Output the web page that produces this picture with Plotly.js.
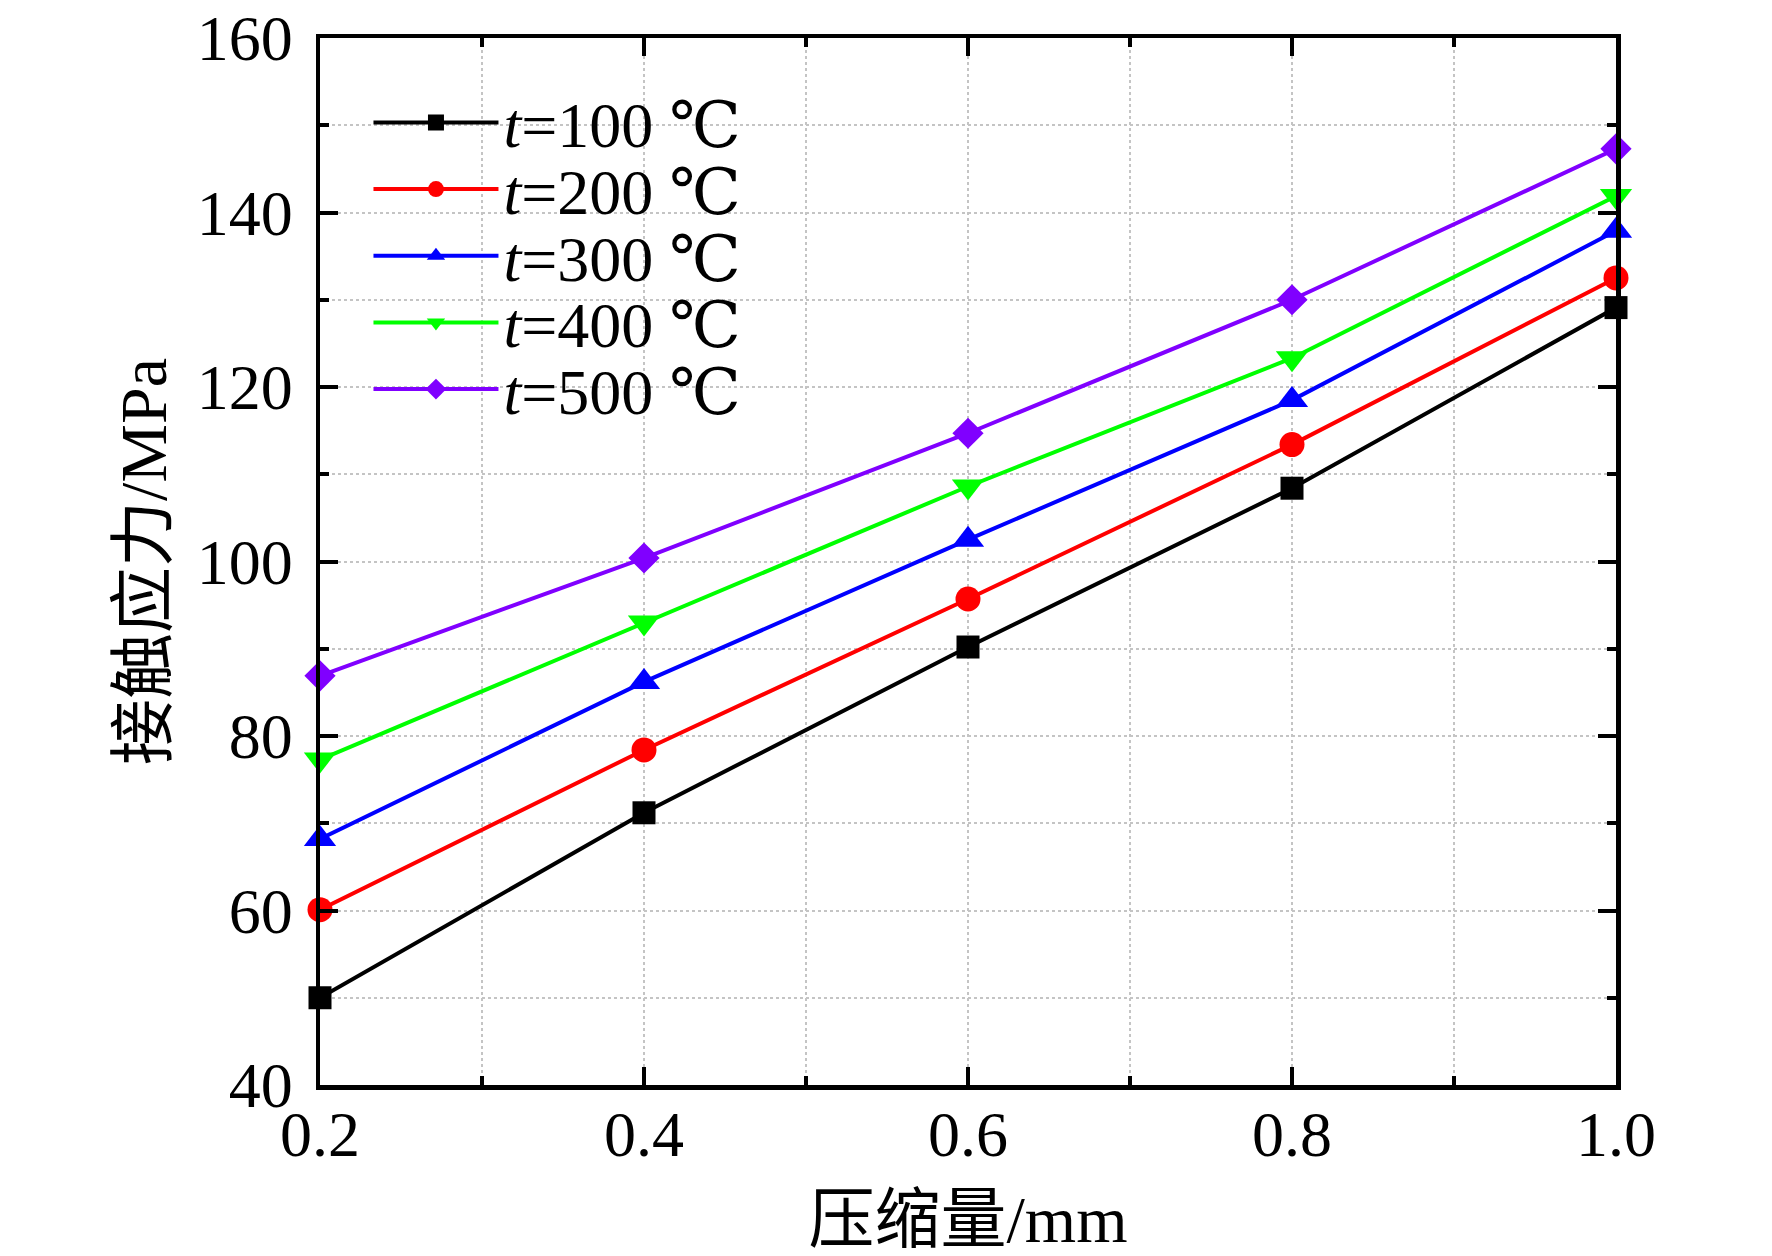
<!DOCTYPE html>
<html>
<head>
<meta charset="utf-8">
<script src="https://cdn.plot.ly/plotly-3.0.1.min.js"></script>
<style>
  html, body { margin: 0; padding: 0; background: #fff; }
  #chart { width: 1772px; height: 1256px; }
</style>
</head>
<body>
<div id="chart"></div>
<script>
// ---- data ----
const compression = [0.2, 0.4, 0.6, 0.8, 1.0];           // 压缩量 / mm
const stress_t100 = [50.0, 71.2, 90.2, 108.4, 129.1];     // t=100 ℃
const stress_t200 = [60.1, 78.4, 95.7, 113.4, 132.5];     // t=200 ℃
const stress_t300 = [68.2, 86.2, 102.5, 118.5, 137.9];    // t=300 ℃
const stress_t400 = [77.3, 93.0, 108.6, 123.3, 141.9];    // t=400 ℃
const stress_t500 = [86.9, 100.4, 114.7, 130.0, 147.3];   // t=500 ℃
const seriesNames = ['<i>t</i>=100 ℃', '<i>t</i>=200 ℃', '<i>t</i>=300 ℃', '<i>t</i>=400 ℃', '<i>t</i>=500 ℃'];
const xTickVals = [0.2, 0.4, 0.6, 0.8, 1.0];
const xTickText = ['0.2', '0.4', '0.6', '0.8', '1.0'];
const yTickVals = [40, 60, 80, 100, 120, 140, 160];
const xTitle = '压缩量/mm';
const yTitle = '接触应力/MPa';

// ---- styling ----
const FONT = 'Liberation Serif, Times New Roman, DejaVu Serif, Noto Sans CJK SC, serif';
const styles = [
  {color: '#000000', symbol: 'square', size: 23},
  {color: '#ff0000', symbol: 'circle', size: 25},
  {color: '#0000ff', symbol: 'triangle-up', size: 28},
  {color: '#00ff00', symbol: 'triangle-down', size: 28},
  {color: '#8000ff', symbol: 'diamond', size: 24}
];
const seriesY = [stress_t100, stress_t200, stress_t300, stress_t400, stress_t500];
const legendIds = ['legend', 'legend2', 'legend3', 'legend4', 'legend5'];
const legendY = [0.919, 0.8553, 0.7917, 0.728, 0.6643];

const traces = seriesY.map((ys, i) => ({
  type: 'scatter',
  mode: 'lines+markers',
  x: compression,
  y: ys,
  name: seriesNames[i],
  legend: legendIds[i],
  cliponaxis: false,
  line: {color: styles[i].color, width: 4},
  marker: {color: styles[i].color, symbol: styles[i].symbol, size: styles[i].size, line: {width: 0}}
}));

const axisCommon = {
  showline: true, linecolor: '#000', linewidth: 4.5, mirror: 'allticks',
  ticks: 'inside', ticklen: 18, tickwidth: 4, tickcolor: '#000',
  showgrid: false, zeroline: false,
  ticklabeloverflow: 'allow',
  tickfont: {family: FONT, size: 64, color: '#000'}
};

const layout = {
  width: 1772, height: 1256,
  paper_bgcolor: '#fff', plot_bgcolor: '#fff',
  margin: {l: 320, r: 156, t: 38, b: 171, autoexpand: false},
  showlegend: true,
  xaxis: Object.assign({}, axisCommon, {
    range: [0.2, 1.0],
    tickmode: 'array', tickvals: xTickVals, ticktext: xTickText,
    ticklabelstandoff: -10,
    minor: {dtick: 0.1, tick0: 0.1, ticks: 'inside', ticklen: 9, tickwidth: 4, tickcolor: '#000',
            showgrid: true, gridcolor: '#c4c4c4', griddash: 'dot', gridwidth: 2},
    title: {text: xTitle, font: {family: FONT, size: 66, color: '#000'}, standoff: 32}
  }),
  yaxis: Object.assign({}, axisCommon, {
    range: [40, 160],
    tickmode: 'array', tickvals: yTickVals,
    ticklabelstandoff: 10,
    minor: {dtick: 10, tick0: 50, ticks: 'inside', ticklen: 9, tickwidth: 4, tickcolor: '#000',
            showgrid: true, gridcolor: '#c4c4c4', griddash: 'dot', gridwidth: 2},
    title: {text: yTitle, font: {family: FONT, size: 66, color: '#000'}, standoff: 10}
  }),
  // white legend background box (hides the grid behind the legend, as in the reference)
  shapes: [{
    type: 'rect', xref: 'paper', yref: 'paper', layer: 'between',
    x0: 0.0216, x1: 0.3287, y0: 0.6313, y1: 0.957,
    fillcolor: '#ffffff', line: {width: 0}
  }]
};

legendIds.forEach((id, i) => {
  layout[id] = {
    x: 0.0374, y: legendY[i], xref: 'paper', yref: 'paper',
    xanchor: 'left', yanchor: 'middle',
    bgcolor: 'rgba(0,0,0,0)', borderwidth: 0,
    itemwidth: 125,
    font: {family: FONT, size: 64, color: '#000'}
  };
});

Plotly.newPlot('chart', traces, layout, {staticPlot: true});
</script>
</body>
</html>
